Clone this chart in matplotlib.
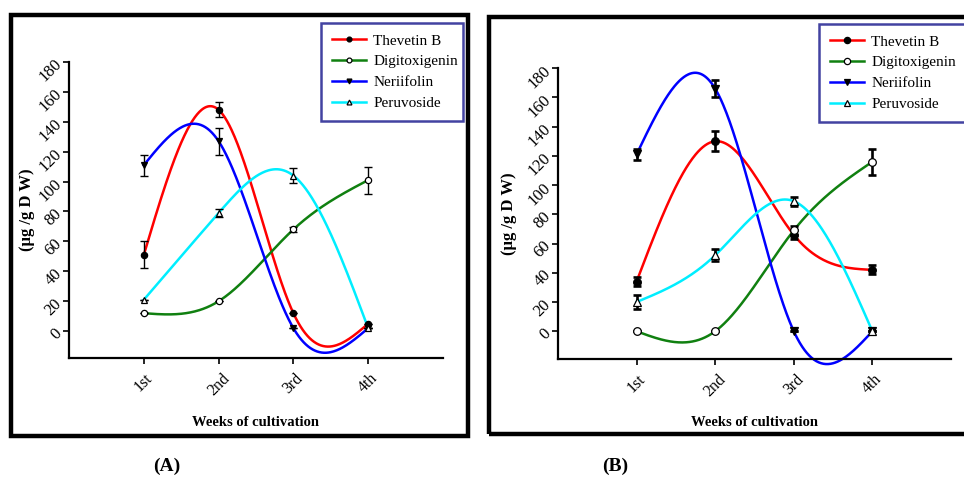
import numpy as np
import matplotlib
matplotlib.use("Agg")
import matplotlib.pyplot as plt
from matplotlib.patches import Rectangle
from matplotlib.lines import Line2D

plt.rcParams['font.family'] = ['Liberation Serif', 'DejaVu Serif']

weeks = ["1st", "2nd", "3rd", "4th"]
series = ["Thevetin B", "Digitoxigenin", "Neriifolin", "Peruvoside"]

# Panel A values and errors
a_thevetin = [51, 148, 12, 5]
a_thevetin_err = [9, 5, 0, 0]
a_digitox = [12, 20, 68, 101]
a_digitox_err = [0, 0, 1.5, 9]
a_nerii = [111, 127, 2, 2]
a_nerii_err = [7, 9, 0, 0]
a_peruv = [21, 79, 104, 2]
a_peruv_err = [0, 3, 5, 0]

# Panel B values and errors
b_thevetin = [34, 130, 66, 42]
b_thevetin_err = [3, 7, 3, 3]
b_digitox = [0, 0, 69, 116]
b_digitox_err = [0, 0, 3, 9]
b_nerii = [121, 166, 0, 0]
b_nerii_err = [4, 6, 0, 0]
b_peruv = [20, 52, 89, 0]
b_peruv_err = [5, 4, 3, 0]

colors = ["#ff0000", "#108010", "#0000ff", "#00eeff"]
markers = ["o", "o", "v", "^"]
mfaces = ["black", "white", "black", "white"]


def natural_spline(x, y, xs):
    x = np.asarray(x, float); y = np.asarray(y, float)
    n = len(x)
    h = np.diff(x)
    A = np.zeros((n, n)); r = np.zeros(n)
    A[0, 0] = 1; A[-1, -1] = 1
    for i in range(1, n - 1):
        A[i, i - 1] = h[i - 1]
        A[i, i] = 2 * (h[i - 1] + h[i])
        A[i, i + 1] = h[i]
        r[i] = 6 * ((y[i + 1] - y[i]) / h[i] - (y[i] - y[i - 1]) / h[i - 1])
    M = np.linalg.solve(A, r)
    out = np.empty_like(xs)
    for k, xv in enumerate(xs):
        i = min(max(np.searchsorted(x, xv) - 1, 0), n - 2)
        t = xv - x[i]; hi = h[i]; u = x[i + 1] - xv
        out[k] = (M[i] * u**3 / (6 * hi) + M[i + 1] * t**3 / (6 * hi)
                  + (y[i] / hi - M[i] * hi / 6) * u
                  + (y[i + 1] / hi - M[i + 1] * hi / 6) * t)
    return out


fig = plt.figure(figsize=(9.64, 4.8), dpi=100)


def panel(rect, ylo, data, errs, ecap_lw, ms, legend_rect, frame_rect, label, label_x, ylab_x):
    ax = fig.add_axes(rect)
    xpos = np.arange(1, len(weeks) + 1)
    xs = np.linspace(1, len(weeks), 300)
    for i, (vals, err) in enumerate(zip(data, errs)):
        ax.plot(xs, natural_spline(xpos, vals, xs), color=colors[i], lw=1.8,
                zorder=2, clip_on=False)
        ax.errorbar(xpos, vals, yerr=err, fmt='none', ecolor='black',
                    elinewidth=ecap_lw, capsize=3.2, capthick=ecap_lw, zorder=3)
        ax.plot(xpos, vals, linestyle='none', marker=markers[i], ms=ms,
                mfc=mfaces[i], mec='black', mew=0.9, zorder=4)
    ax.set_xlim(0, 5)
    ax.set_ylim(ylo, 180)
    ax.set_xticks(xpos)
    ax.set_xticklabels(weeks, rotation=45, ha='center', va='top', fontsize=11.5)
    ax.set_yticks(np.arange(0, 181, 20))
    ax.set_yticklabels([str(v) for v in range(0, 181, 20)], rotation=45,
                       ha='right', va='center', fontsize=12, rotation_mode='anchor')
    ax.spines['top'].set_visible(False)
    ax.spines['right'].set_visible(False)
    ax.spines['left'].set_linewidth(1.6)
    ax.spines['bottom'].set_linewidth(1.6)
    ax.tick_params(direction='out', length=4, width=1.2, pad=3)
    ax.tick_params(axis='x', pad=5)
    ax.set_ylabel("(µg /g D W)", fontweight='bold', fontsize=12)
    ax.yaxis.set_label_coords(ylab_x, 0.5)
    ax.set_xlabel("Weeks of cultivation", fontweight='bold', fontsize=10.5, labelpad=12)
    ax.set_facecolor('none')

    handles = [Line2D([0], [0], color=colors[i], lw=1.8, marker=markers[i], ms=ms - 1,
                      mfc=mfaces[i], mec='black', mew=0.9) for i in range(4)]
    leg = fig.legend(handles, series, loc='upper left', bbox_to_anchor=legend_rect,
                     mode='expand', fontsize=11, frameon=True, fancybox=False,
                     handlelength=2.2, handletextpad=0.5, labelspacing=0.46,
                     borderaxespad=0, borderpad=0.72)
    leg.get_frame().set_edgecolor('#14148a')
    leg.get_frame().set_linewidth(1.8)

    fig.patches.append(Rectangle((frame_rect[0], frame_rect[1]), frame_rect[2], frame_rect[3],
                                 transform=fig.transFigure, fill=False, edgecolor='black',
                                 lw=3.2, clip_on=False))
    fig.text(label_x, 0.028, label, fontweight='bold', fontsize=14, ha='center', va='center')
    return ax


panel([0.0716, 0.254, 0.3879, 0.617], -18,
      [a_thevetin, a_digitox, a_nerii, a_peruv],
      [a_thevetin_err, a_digitox_err, a_nerii_err, a_peruv_err],
      1.0, 4.5, (0.333, 0.756, 0.147, 0.196),
      (0.0115, 0.0925, 0.4735, 0.877), "(A)", 0.173, -0.09)

panel([0.5788, 0.252, 0.4077, 0.606], -19,
      [b_thevetin, b_digitox, b_nerii, b_peruv],
      [b_thevetin_err, b_digitox_err, b_nerii_err, b_peruv_err],
      1.9, 5.5, (0.8495, 0.752, 0.175, 0.198),
      (0.5075, 0.095, 0.52, 0.869), "(B)", 0.638, -0.105)

fig.savefig("out.png", dpi=100)
